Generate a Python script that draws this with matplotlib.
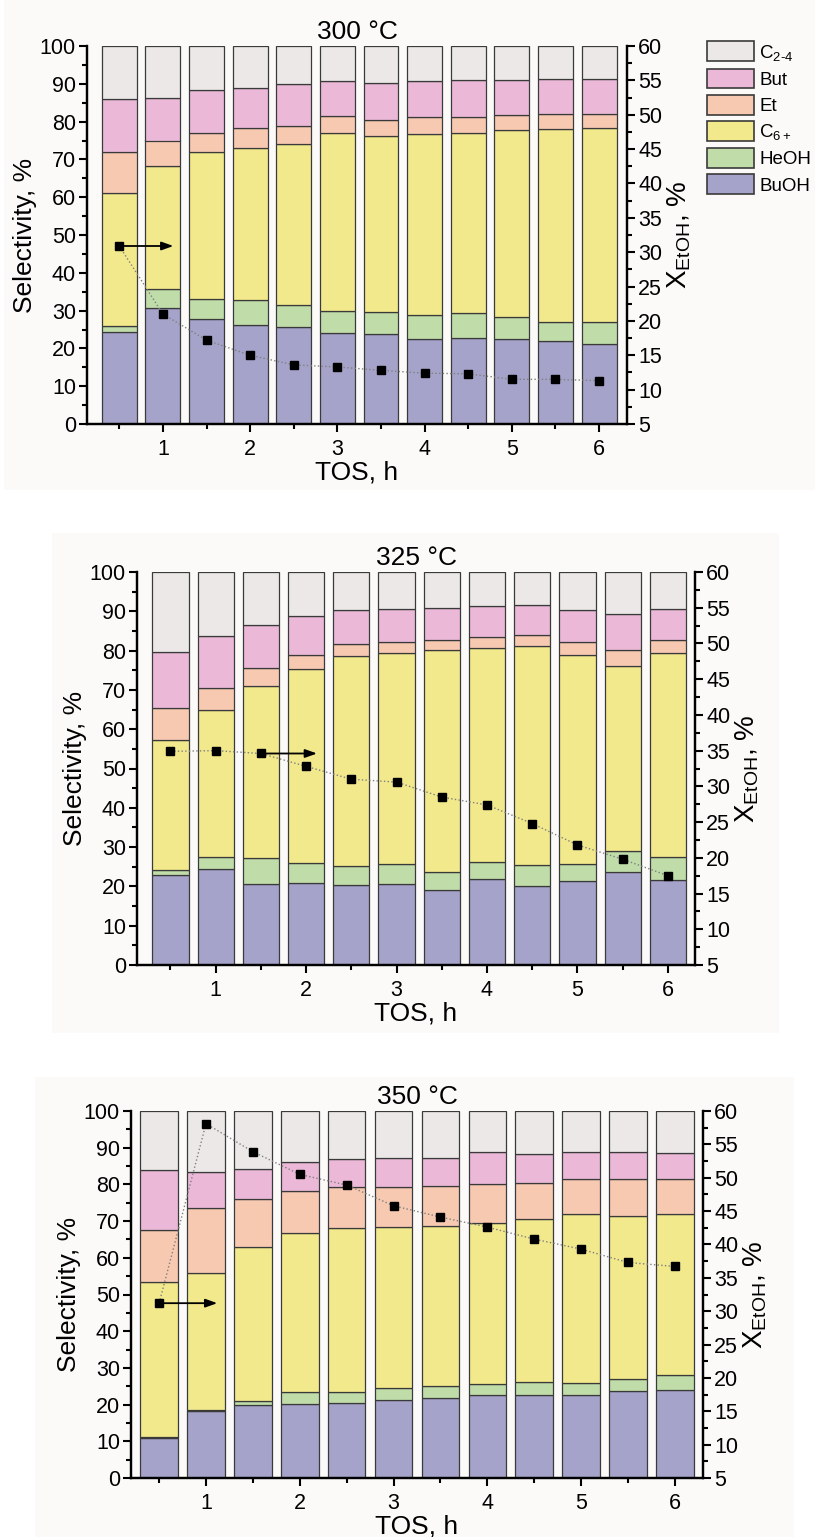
import matplotlib
matplotlib.use("Agg")
import matplotlib.pyplot as plt
from matplotlib.patches import Patch, Rectangle
import numpy as np

plt.rcParams['font.family'] = ['Liberation Sans', 'DejaVu Sans']
plt.rcParams['mathtext.fontset'] = 'custom'
plt.rcParams['mathtext.rm'] = 'Liberation Sans'
plt.rcParams['mathtext.it'] = 'Liberation Sans:italic'

# Time on stream, h
tos = [0.5, 1.0, 1.5, 2.0, 2.5, 3.0, 3.5, 4.0, 4.5, 5.0, 5.5, 6.0]

# Product selectivities (%) at 300 °C
buoh_300 = [24.4, 30.8, 27.7, 26.2, 25.7, 24.1, 23.9, 22.4, 22.8, 22.4, 22.0, 21.1]
heoh_300 = [1.6, 4.8, 5.3, 6.6, 5.7, 5.7, 5.6, 6.5, 6.5, 6.0, 5.0, 5.9]
c6_300 = [35.0, 32.6, 38.9, 40.1, 42.6, 47.2, 46.6, 47.9, 47.7, 49.3, 51.1, 51.3]
et_300 = [11.0, 6.8, 5.1, 5.4, 4.8, 4.5, 4.3, 4.3, 4.2, 4.0, 3.9, 3.6]
but_300 = [13.9, 11.2, 11.3, 10.7, 11.1, 9.2, 9.8, 9.7, 9.7, 9.4, 9.4, 9.4]
c24_300 = [14.1, 13.8, 11.7, 11.0, 10.1, 9.3, 9.8, 9.2, 9.1, 8.9, 8.6, 8.7]
conv_300 = [30.9, 21.0, 17.2, 15.0, 13.6, 13.3, 12.8, 12.4, 12.3, 11.5, 11.5, 11.3]

# Product selectivities (%) at 325 °C
buoh_325 = [22.9, 24.4, 20.6, 20.8, 20.4, 20.6, 19.0, 21.8, 20.1, 21.5, 23.7, 21.6]
heoh_325 = [1.3, 3.2, 6.7, 5.1, 4.8, 5.0, 4.7, 4.5, 5.3, 4.2, 5.2, 5.9]
c6_325 = [33.1, 37.2, 43.6, 49.5, 53.5, 53.8, 56.4, 54.4, 55.8, 53.2, 47.2, 51.9]
et_325 = [8.1, 5.8, 4.7, 3.6, 3.1, 2.9, 2.7, 2.8, 2.8, 3.2, 4.1, 3.3]
but_325 = [14.3, 13.0, 11.0, 9.9, 8.5, 8.3, 8.0, 7.8, 7.6, 8.3, 9.0, 7.9]
c24_325 = [20.3, 16.4, 13.4, 11.1, 9.7, 9.4, 9.2, 8.7, 8.4, 9.6, 10.8, 9.4]
conv_325 = [34.9, 35.0, 34.6, 32.8, 31.0, 30.6, 28.5, 27.4, 24.8, 21.8, 19.8, 17.5]

# Product selectivities (%) at 350 °C
buoh_350 = [10.9, 18.2, 19.8, 20.1, 20.4, 21.3, 21.9, 22.5, 22.7, 22.6, 23.6, 23.9]
heoh_350 = [0.3, 0.4, 1.2, 3.2, 3.1, 3.2, 3.1, 3.2, 3.5, 3.3, 3.4, 4.3]
c6_350 = [42.1, 37.3, 41.9, 43.5, 44.6, 43.8, 43.8, 43.9, 44.5, 45.9, 44.3, 43.7]
et_350 = [14.4, 17.8, 13.1, 11.5, 11.2, 11.0, 10.7, 10.5, 9.8, 9.6, 10.1, 9.5]
but_350 = [16.1, 9.7, 8.3, 7.8, 7.5, 7.8, 7.8, 8.6, 7.7, 7.3, 7.3, 7.2]
c24_350 = [16.2, 16.6, 15.7, 13.9, 13.2, 12.9, 12.7, 11.3, 11.8, 11.3, 11.3, 11.4]
conv_350 = [31.2, 58.1, 53.9, 50.5, 48.9, 45.8, 44.1, 42.6, 40.8, 39.3, 37.3, 36.7]

labels = ['BuOH', 'HeOH', r'C$_{6+}$', 'Et', 'But', r'C$_{2\text{-}4}$']
colors = ['#a5a3c9', '#bfdca9', '#f2e88c', '#f7c9b1', '#ebb9d7', '#ece8e8']

panels = [
    dict(title='300 °C', data=[buoh_300, heoh_300, c6_300, et_300, but_300, c24_300],
         conv=conv_300, arrow_from=0, rect=[87, 46, 627, 424], xlim=(0.13, 6.32),
         bg=(4, 0, 815, 490)),
    dict(title='325 °C', data=[buoh_325, heoh_325, c6_325, et_325, but_325, c24_325],
         conv=conv_325, arrow_from=2, rect=[137, 572, 695, 965], xlim=(0.13, 6.30),
         bg=(52, 533, 779, 1033)),
    dict(title='350 °C', data=[buoh_350, heoh_350, c6_350, et_350, but_350, c24_350],
         conv=conv_350, arrow_from=0, rect=[131, 1111, 703, 1478], xlim=(0.2, 6.30),
         bg=(35, 1077, 794, 1537)),
]

W, H = 815, 1537
fig = plt.figure(figsize=(W / 100, H / 100), dpi=100)
fig.patch.set_facecolor('white')

TICK = 15.5
LABEL = 19

for p in panels:
    x0, y0, x1, y1 = p['bg']
    fig.patches.append(Rectangle((x0 / W, 1 - y1 / H), (x1 - x0) / W, (y1 - y0) / H,
                                 transform=fig.transFigure, facecolor='#fbfaf9',
                                 edgecolor='none', zorder=-10))
    l, t, r, b = p['rect']
    ax = fig.add_axes([l / W, 1 - b / H, (r - l) / W, (b - t) / H])
    ax.set_facecolor('none')
    bottom = np.zeros(len(tos))
    for vals, col, lab in zip(p['data'], colors, labels):
        ax.bar(tos, vals, width=0.4, bottom=bottom, color=col, edgecolor='#3a3a3a',
               linewidth=0.9, label=lab, zorder=2)
        bottom += np.array(vals)
    ax.set_xlim(*p['xlim'])
    ax.set_ylim(0, 100)
    ax.set_xticks([1, 2, 3, 4, 5, 6])
    ax.set_xticks(tos[::2], minor=True)
    ax.set_yticks(np.arange(0, 101, 10))
    ax.set_yticks(np.arange(0, 101, 5), minor=True)
    ax.tick_params(axis='both', which='major', direction='out', length=6, width=1.5,
                   labelsize=TICK, pad=2)
    ax.tick_params(axis='both', which='minor', direction='out', length=3.5, width=1.5)
    ax.tick_params(axis='x', pad=5)
    for s in ['left', 'bottom', 'right']:
        ax.spines[s].set_linewidth(1.6)
    ax.spines['top'].set_visible(False)
    ax.set_xlabel('TOS, h', fontsize=LABEL, labelpad=0)
    ax.set_ylabel('Selectivity, %', fontsize=LABEL, labelpad=2)
    ax.set_title(p['title'], fontsize=LABEL, pad=5)

    ax2 = ax.twinx()
    ax2.set_ylim(5, 60)
    ax2.set_yticks(np.arange(5, 61, 5))
    ax2.set_yticks(np.arange(5, 60.1, 2.5), minor=True)
    ax2.tick_params(axis='y', which='major', direction='out', length=6, width=1.5,
                    labelsize=TICK, pad=2)
    ax2.tick_params(axis='y', which='minor', direction='out', length=3.5, width=1.5)
    for s in ['left', 'bottom', 'right']:
        ax2.spines[s].set_linewidth(1.6)
    ax2.spines['top'].set_visible(False)
    ax2.set_ylabel(r'$\mathrm{X}_{\mathrm{EtOH}}$, %', fontsize=LABEL + 1, labelpad=2)
    ax2.plot(tos, p['conv'], linestyle=':', color='#808080', linewidth=1.0, zorder=3)
    ax2.plot(tos, p['conv'], linestyle='none', marker='s', markersize=6,
             color='black', zorder=4)
    i = p['arrow_from']
    ax2.annotate('', xy=(tos[i] + 0.62, p['conv'][i]), xytext=(tos[i], p['conv'][i]),
                 arrowprops=dict(arrowstyle='-|>,head_length=0.7,head_width=0.25',
                                 color='black', lw=1.3, shrinkA=0, shrinkB=0),
                 zorder=5)

    if p is panels[0]:
        handles = [Patch(facecolor=c, edgecolor='#3a3a3a', linewidth=1.2, label=lb)
                   for c, lb in zip(colors, labels)][::-1]
        fig.legend(handles=handles, loc='upper left', bbox_to_anchor=(0.858, 0.978),
                   frameon=False, fontsize=13.5, handlelength=2.5, handleheight=1.25,
                   labelspacing=0.32, handletextpad=0.3, borderaxespad=0)

fig.savefig('out.png', dpi=100, facecolor='white')
